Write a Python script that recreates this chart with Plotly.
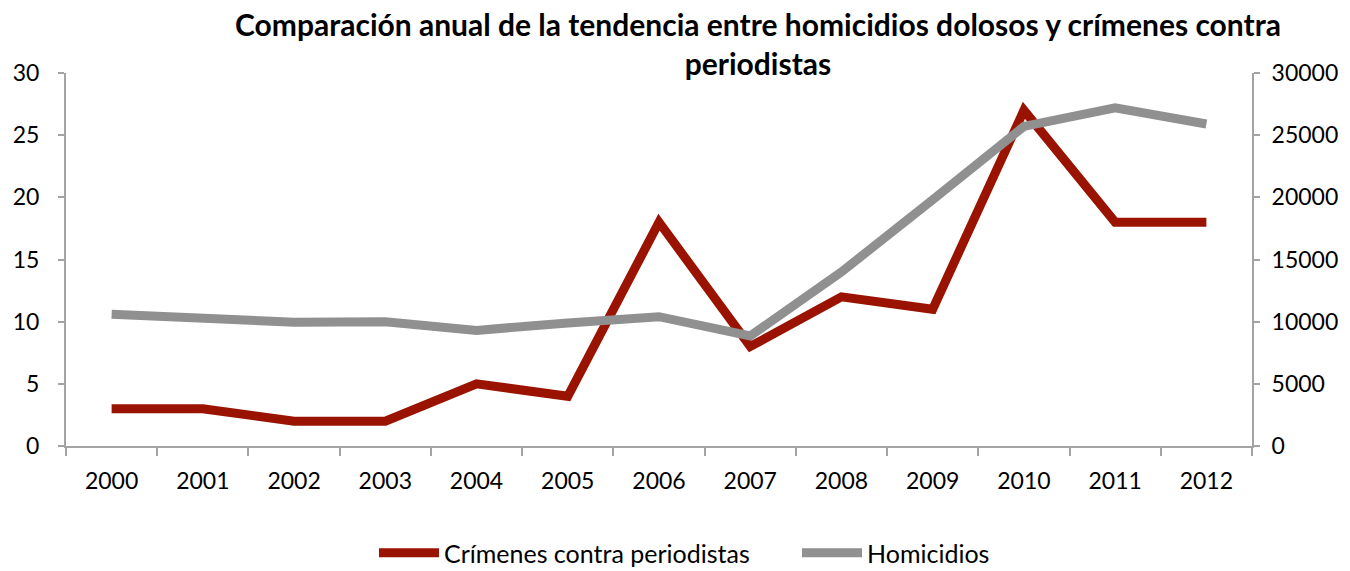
import plotly.graph_objects as go

years = [str(y) for y in range(2000, 2013)]
crimenes = [3, 3, 2, 2, 5, 4, 18, 8, 12, 11, 27, 18, 18]
homicidios = [10600, 10200, 9950, 10000, 9300, 9900, 10400, 8850, 14000, 19800, 25700, 27200, 25900]

RED = "#991300"
GRAY = "#909090"
AXIS = "#A3A3A3"
FONT = "Lato"

fig = go.Figure()
fig.add_trace(go.Scatter(x=years, y=crimenes, mode="lines", name="Crímenes contra periodistas",
                         line=dict(color=RED, width=9), yaxis="y"))
fig.add_trace(go.Scatter(x=years, y=homicidios, mode="lines", name="Homicidios",
                         line=dict(color=GRAY, width=9), yaxis="y2"))

fig.update_layout(
    width=1350, height=571,
    margin=dict(l=66, r=98, t=73, b=125),
    paper_bgcolor="white", plot_bgcolor="white",
    font=dict(family=FONT, size=23, color="black"),
    title=dict(text="<b>Comparación anual de la tendencia entre homicidios dolosos y crímenes contra<br>periodistas</b>",
               x=758/1350, xref="container", xanchor="center",
               y=1 - 36/571, yref="container", yanchor="top",
               font=dict(family=FONT, size=30, color="black")),
    xaxis=dict(type="category", range=[-0.5, 12.5], showgrid=False, showline=True,
               linecolor=AXIS, linewidth=2, ticks="outside", tickson="boundaries",
               ticklen=8, tickwidth=2, tickcolor=AXIS, ticklabelstandoff=13),
    yaxis=dict(range=[0, 30], dtick=5, showgrid=False, showline=True, linecolor=AXIS,
               linewidth=2, ticks="outside", ticklen=6, tickwidth=2, tickcolor=AXIS,
               zeroline=False, ticklabelstandoff=14),
    yaxis2=dict(range=[0, 30000], dtick=5000, overlaying="y", side="right", showgrid=False,
                showline=True, linecolor=AXIS, linewidth=2, ticks="outside", ticklen=6,
                tickwidth=2, tickcolor=AXIS, tickformat="d", zeroline=False, ticklabelstandoff=7),
    legend=dict(orientation="h", x=797/1350, xref="container", xanchor="center",
                y=18/571, yref="container", yanchor="middle",
                font=dict(family=FONT, size=25), itemwidth=60, tracegroupgap=0,
                entrywidth=348),
    showlegend=True,
)

fig.write_html("out.html", config={"displayModeBar": False},
               post_script="document.body.style.margin='0';document.body.style.overflow='hidden';")
